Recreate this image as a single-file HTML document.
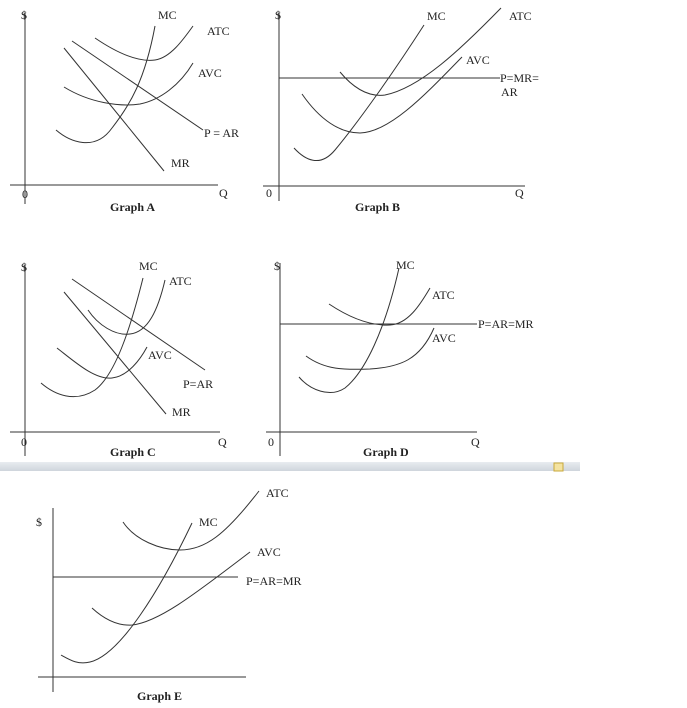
<!DOCTYPE html>
<html><head><meta charset="utf-8"><style>
html,body{margin:0;padding:0;background:#fff;}
svg{display:block;}
text{font-family:"Liberation Serif",serif;font-size:12px;fill:#222;}
.t{font-weight:bold;}
path,line{stroke:#333;stroke-width:1;fill:none;}
</style></head><body>
<svg width="687" height="708" viewBox="0 0 687 708">
<!-- Graph A -->
<g>
<line x1="25" y1="13" x2="25" y2="204"/>
<line x1="10" y1="185" x2="218" y2="185"/>
<text x="21" y="19">$</text>
<text x="22" y="198">0</text>
<text x="219" y="197">Q</text>
<text x="110" y="211" class="t">Graph A</text>
<path d="M56,130 C70,142 95,152 112,128 C130,105 145,80 155,26"/>
<path d="M95,38 C120,55 140,62 155,60 C170,58 183,40 193,26"/>
<path d="M64,87 C90,103 120,107 140,104 C160,100 180,85 193,63"/>
<line x1="72" y1="41" x2="203" y2="130"/>
<line x1="64" y1="48" x2="164" y2="171"/>
<text x="158" y="19">MC</text>
<text x="207" y="35">ATC</text>
<text x="198" y="77">AVC</text>
<text x="204" y="137">P = AR</text>
<text x="171" y="167">MR</text>
</g>
<!-- Graph B -->
<g>
<line x1="279" y1="13" x2="279" y2="201"/>
<line x1="263" y1="186" x2="525" y2="186"/>
<line x1="279" y1="78" x2="500" y2="78"/>
<text x="275" y="19">$</text>
<text x="266" y="197">0</text>
<text x="515" y="197">Q</text>
<text x="355" y="211" class="t">Graph B</text>
<path d="M294,148 C305,160 320,168 335,150 C360,120 395,70 424,25"/>
<path d="M340,72 C355,90 370,97 385,95 C420,88 460,50 501,8"/>
<path d="M302,94 C320,120 340,133 360,133 C390,132 425,95 462,57"/>
<text x="427" y="20">MC</text>
<text x="509" y="20">ATC</text>
<text x="466" y="64">AVC</text>
<text x="500" y="82">P=MR=</text>
<text x="501" y="96">AR</text>
</g>
<!-- Graph C -->
<g>
<line x1="25" y1="265" x2="25" y2="456"/>
<line x1="10" y1="432" x2="220" y2="432"/>
<text x="21" y="271">$</text>
<text x="21" y="446">0</text>
<text x="218" y="446">Q</text>
<text x="110" y="456" class="t">Graph C</text>
<path d="M41,383 C55,395 75,403 95,390 C115,375 130,330 143,278"/>
<path d="M88,310 C98,325 115,336 130,334 C148,332 158,310 165,280"/>
<path d="M57,348 C75,362 95,380 112,378 C128,376 140,360 147,347"/>
<line x1="72" y1="279" x2="205" y2="370"/>
<line x1="64" y1="292" x2="166" y2="414"/>
<text x="139" y="270">MC</text>
<text x="169" y="285">ATC</text>
<text x="148" y="359">AVC</text>
<text x="183" y="388">P=AR</text>
<text x="172" y="416">MR</text>
</g>
<!-- Graph D -->
<g>
<line x1="280" y1="263" x2="280" y2="456"/>
<line x1="266" y1="432" x2="477" y2="432"/>
<line x1="280" y1="324" x2="477" y2="324"/>
<text x="274" y="270">$</text>
<text x="268" y="446">0</text>
<text x="471" y="446">Q</text>
<text x="363" y="456" class="t">Graph D</text>
<path d="M299,377 C310,390 330,398 345,388 C365,372 385,330 399,268"/>
<path d="M329,304 C350,318 370,326 390,325 C408,324 420,305 430,288"/>
<path d="M306,356 C325,370 345,370 370,369 C400,367 420,360 434,328"/>
<text x="396" y="269">MC</text>
<text x="432" y="299">ATC</text>
<text x="478" y="328">P=AR=MR</text>
<text x="432" y="342">AVC</text>
</g>
<!-- separator bar -->
<defs><linearGradient id="bar" x1="0" y1="0" x2="0" y2="1"><stop offset="0" stop-color="#e8ecf0"/><stop offset="1" stop-color="#cfd5dc"/></linearGradient></defs>
<rect x="0" y="462" width="580" height="9" fill="url(#bar)"/>
<rect x="554" y="463" width="9" height="8" fill="#f4e3a0" stroke="#c9a83a" stroke-width="1"/>
<!-- Graph E -->
<g>
<line x1="53" y1="508" x2="53" y2="692"/>
<line x1="38" y1="677" x2="246" y2="677"/>
<line x1="53" y1="577" x2="238" y2="577"/>
<text x="36" y="526">$</text>
<text x="137" y="700" class="t">Graph E</text>
<path d="M61,655 C70,660 78,665 90,662 C120,655 160,590 192,523"/>
<path d="M123,522 C135,540 160,550 180,550 C205,550 225,535 259,491"/>
<path d="M92,608 C105,620 118,626 132,625 C160,622 200,590 250,552"/>
<text x="199" y="526">MC</text>
<text x="266" y="497">ATC</text>
<text x="257" y="556">AVC</text>
<text x="246" y="585">P=AR=MR</text>
</g>
</svg>
</body></html>
